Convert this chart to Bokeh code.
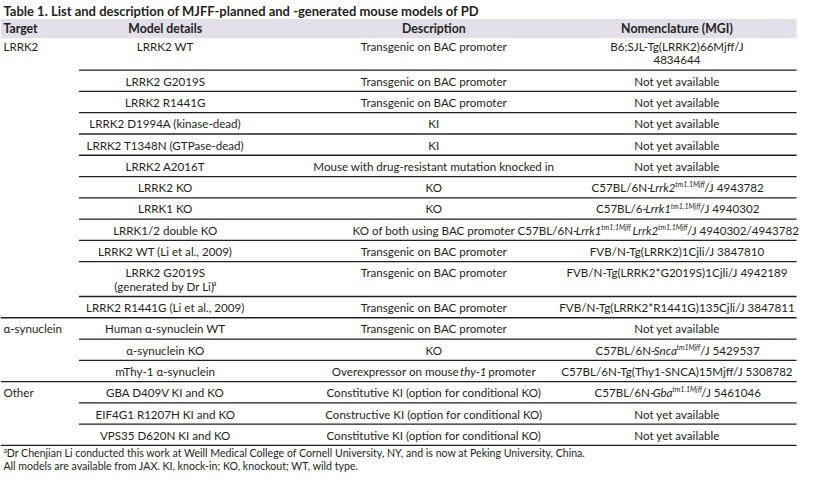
from bokeh.plotting import figure
from bokeh.models import ColumnDataSource, Range1d
from bokeh.core.properties import value
from bokeh.embed import file_html
from bokeh.resources import INLINE

# ---------------- data ----------------
title_text = "Table 1. List and description of MJFF-planned and -generated mouse models of PD"
headers = ["Target", "Model details", "Description", "Nomenclature (MGI)"]
targets = ["LRRK2", "α-synuclein", "Other"]
target_rows = [0, 12, 15]
models = [
    "LRRK2 WT", "LRRK2 G2019S", "LRRK2 R1441G", "LRRK2 D1994A (kinase-dead)",
    "LRRK2 T1348N (GTPase-dead)", "LRRK2 A2016T", "LRRK2 KO", "LRRK1 KO",
    "LRRK1/2 double KO", "LRRK2 WT (Li et al., 2009)",
    "LRRK2 G2019S\n(generated by Dr Li)^a^", "LRRK2 R1441G (Li et al., 2009)",
    "Human α-synuclein WT", "α-synuclein KO", "mThy-1 α-synuclein",
    "GBA D409V KI and KO", "EIF4G1 R1207H KI and KO", "VPS35 D620N KI and KO",
]
descriptions = [
    "Transgenic on BAC promoter", "Transgenic on BAC promoter", "Transgenic on BAC promoter",
    "KI", "KI", "Mouse with drug-resistant mutation knocked in", "KO", "KO",
    "KO of both using BAC promoter", "Transgenic on BAC promoter",
    "Transgenic on BAC promoter", "Transgenic on BAC promoter",
    "Transgenic on BAC promoter", "KO", "Overexpressor on mouse _thy-1_ promoter",
    "Constitutive KI (option for conditional KO)",
    "Constructive KI (option for conditional KO)",
    "Constitutive KI (option for conditional KO)",
]
nomenclature = [
    "B6;SJL-Tg(LRRK2)66Mjff/J\n4834644",
    "Not yet available", "Not yet available", "Not yet available",
    "Not yet available", "Not yet available",
    "C57BL/6N-_Lrrk2^tm1.1Mjff^_/J 4943782",
    "C57BL/6-_Lrrk1^tm1.1Mjff^_/J 4940302",
    "C57BL/6N-_Lrrk1^tm1.1Mjff^ Lrrk2^tm1.1Mjff^_/J 4940302/4943782",
    "FVB/N-Tg(LRRK2)1Cjli/J 3847810",
    "FVB/N-Tg(LRRK2*G2019S)1Cjli/J 4942189",
    "FVB/N-Tg(LRRK2*R1441G)135Cjli/J 3847811",
    "Not yet available",
    "C57BL/6N-_Snca^tm1Mjff^_/J 5429537",
    "C57BL/6N-Tg(Thy1-SNCA)15Mjff/J 5308782",
    "C57BL/6N-_Gba^tm1.1Mjff^_/J 5461046",
    "Not yet available", "Not yet available",
]
footnotes = [
    "^a^Dr Chenjian Li conducted this work at Weill Medical College of Cornell University, NY, and is now at Peking University, China.",
    "All models are available from JAX. KI, knock-in; KO, knockout; WT, wild type.",
]

# ---------------- layout ----------------
REF_W, REF_H = 815, 489
FIG_W, FIG_H = 799, 473
SX = FIG_W / REF_W
FONT = "Lato"
INK = "#231f20"
BODY_PX = 11.6
SUP_PX = 7.0
FOOT_PX = 10.6
TITLE_PX = 13.0
HEAD_PX = 12.3
ITAL_FAC = 0.95
SUP_FAC = 0.95

COL_CENTERS = [None, 168, 442, 690]
LEFT_X = 3
LINE_X0_INNER = 80
LINE_X1 = 812
BAND_TOP, BAND_BOT = 19, 39
BODY_TOP = 36
ROW_H = 22
EXTRA_LINE_H = 14
LINE_SPACING = 14.5
TEXT_OFF = 11.5
TITLE_Y = 11
FOOT_Y = [468, 481]

CW = {' ': 0.2, '/': 0.37, '.': 0.22, ',': 0.22, ';': 0.22, '-': 0.35, '(': 0.3, ')': 0.3,
      '*': 0.4, 'α': 0.55}
CW.update({d: 0.58 for d in "0123456789"})
CW.update(dict(zip("ABCDEFGHIJKLMNOPQRSTUVWXYZ",
                   [.68, .64, .67, .75, .56, .54, .72, .76, .28, .38, .66, .49, .92,
                    .76, .8, .6, .8, .62, .53, .58, .73, .68, 1.0, .66, .63, .6])))
CW.update(dict(zip("abcdefghijklmnopqrstuvwxyz",
                   [.5, .56, .46, .56, .52, .33, .5, .56, .23, .23, .5, .23, .83, .56,
                    .56, .56, .56, .37, .43, .35, .56, .5, .77, .49, .5, .45])))


def seg_width(s, size, italic=False, sup=False):
    f = SUP_FAC if sup else (ITAL_FAC if italic else 1.0)
    return f * sum(CW.get(c, 0.52) for c in s) * size / SX


def parse(line):
    segs, buf, it, sup = [], "", False, False
    for c in line:
        if c in "_^":
            if buf:
                segs.append((buf, it, sup))
            buf = ""
            if c == "_":
                it = not it
            else:
                sup = not sup
        else:
            buf += c
    if buf:
        segs.append((buf, it, sup))
    return segs


texts = {}


def put(key, x, y, t):
    d = texts.setdefault(key, {"x": [], "y": [], "text": []})
    d["x"].append(x)
    d["y"].append(y)
    d["text"].append(t)


def cell(s, y, size, center=None, left=None, bold=False):
    for k, line in enumerate(s.split("\n")):
        yy = y + k * LINE_SPACING
        segs = parse(line)
        widths = [seg_width(t, SUP_PX if sp else size, it, sp) for t, it, sp in segs]
        total = sum(widths)
        if center is not None:
            center_eff = min(center, LINE_X1 - total / 2)
        if len(segs) == 1 and not segs[0][2]:
            t, it, _ = segs[0]
            if center is not None:
                put(("center", it, False, size, bold), center_eff, yy, t)
            else:
                put(("left", it, False, size, bold), left, yy, t)
            continue
        x = left if center is None else center_eff - total / 2
        for (t, it, sp), w in zip(segs, widths):
            lead = len(t) - len(t.lstrip(" "))
            xs = x + seg_width(" " * lead, SUP_PX if sp else size, it, sp)
            body = t.strip(" ")
            if body:
                if sp:
                    put(("left", it, True, SUP_PX, bold), xs, yy - 3.5, body)
                else:
                    put(("left", it, False, size, bold), xs, yy, body)
            x += w


# rows
n_lines = [max(len(c.split("\n")) for c in r) for r in zip(models, descriptions, nomenclature)]
tops = []
y = BODY_TOP
for n in n_lines:
    tops.append(y)
    y += ROW_H + EXTRA_LINE_H * (n - 1)
bottoms = tops[1:] + [y]

group_ends = set(r - 1 for r in target_rows[1:]) | {len(models) - 1}
seg_x0 = [0 if i in group_ends else LINE_X0_INNER for i in range(len(models))]
seg_x1 = [LINE_X1] * len(models)

cell(title_text, TITLE_Y, TITLE_PX, left=LEFT_X, bold=True)
cell(headers[0], (BAND_TOP + BAND_BOT) / 2, HEAD_PX, left=LEFT_X, bold=True)
for h, c in zip(headers[1:], COL_CENTERS[1:]):
    cell(h, (BAND_TOP + BAND_BOT) / 2, HEAD_PX, center=c, bold=True)
for t, r in zip(targets, target_rows):
    cell(t, tops[r] + TEXT_OFF, BODY_PX, left=LEFT_X)
for i in range(len(models)):
    ty = tops[i] + TEXT_OFF
    cell(models[i], ty, BODY_PX, center=COL_CENTERS[1])
    cell(descriptions[i], ty, BODY_PX, center=COL_CENTERS[2])
    cell(nomenclature[i], ty, BODY_PX, center=COL_CENTERS[3])
for f, fy in zip(footnotes, FOOT_Y):
    cell(f, fy, FOOT_PX, left=LEFT_X)

# ---------------- figure ----------------
p = figure(width=FIG_W, height=FIG_H, x_range=Range1d(0, REF_W), y_range=Range1d(REF_H, 0),
           output_backend="svg", toolbar_location=None, min_border=0)
p.axis.visible = False
p.grid.visible = False
p.outline_line_color = None
p.background_fill_color = "white"

p.quad(left=[0], right=[LINE_X1], top=[BAND_TOP], bottom=[BAND_BOT],
       fill_color="#e2dfe9", line_color=None)
p.segment(x0=seg_x0, y0=bottoms, x1=seg_x1, y1=bottoms, line_color=INK, line_width=1.3)

for (align, it, sup, size, bold), d in texts.items():
    style = "bold" if bold else "normal"
    if it:
        style = "bold italic" if bold else "italic"
    p.text(x="x", y="y", text="text", source=ColumnDataSource(d),
           text_font=value(FONT), text_font_size=value(f"{size}px"),
           text_font_style=style, text_align=align, text_baseline="middle",
           text_color=INK)

open("out.html", "w").write(file_html(p, INLINE))
